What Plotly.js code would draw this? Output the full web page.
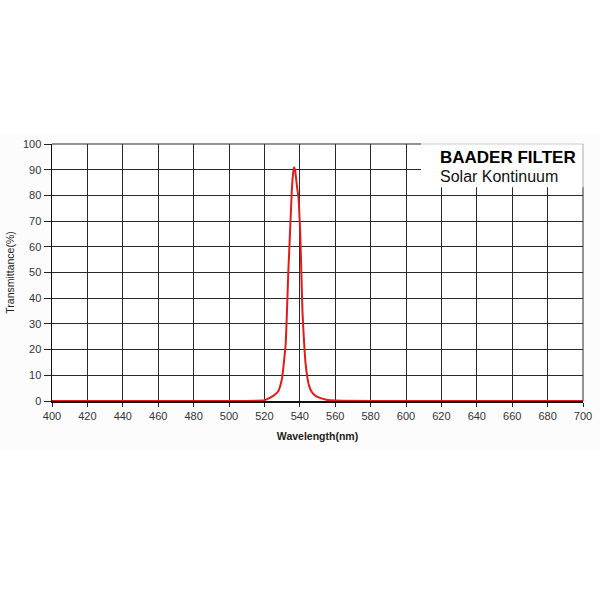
<!DOCTYPE html>
<html>
<head>
<meta charset="utf-8">
<script src="https://cdn.plot.ly/plotly-3.0.1.min.js"></script>
<style>html,body{margin:0;padding:0;background:#fff;}#chart{width:600px;height:600px;}</style>
</head>
<body>
<div id="chart"></div>
<script>
// Wavelength (nm) and transmittance (%)
const wavelength = [400, 450, 500, 515, 520, 523, 526, 528, 529, 530, 531, 532, 532.5, 533, 533.5, 534, 534.5, 535, 535.5, 536, 536.7, 537.3, 538, 538.7, 539.3, 539.8, 540.2, 540.8, 541.5, 542, 542.5, 543.2, 544.2, 545.2, 546.7, 548.5, 551.4, 555, 560, 600, 650, 700];
const transmittance = [0, 0, 0, 0.1, 0.3, 1.2, 2.5, 4, 6, 9, 15, 22, 30, 40, 50, 58, 66, 74, 82, 87, 91, 90, 86, 82, 79, 72, 66, 52, 35, 28, 22, 15, 9.5, 6, 3.6, 2.2, 1.2, 0.5, 0.2, 0, 0, 0];
const xTicks = [400, 420, 440, 460, 480, 500, 520, 540, 560, 580, 600, 620, 640, 660, 680, 700];
const yTicks = [0, 10, 20, 30, 40, 50, 60, 70, 80, 90, 100];
const titleLine1 = "BAADER FILTER";
const titleLine2 = "Solar Kontinuum";
const xTitle = "Wavelength(nm)";
const yTitle = "Transmittance(%)";

const font = "Liberation Sans, Arial, sans-serif";

const trace = {
  x: wavelength, y: transmittance, type: 'scatter', mode: 'lines',
  line: {color: '#e31a1a', width: 2, shape: 'spline', smoothing: 0.6},
  hoverinfo: 'skip'
};

const layout = {
  width: 600, height: 600,
  margin: {l: 52, r: 17, t: 144, b: 199},
  paper_bgcolor: '#ffffff', plot_bgcolor: '#ffffff',
  showlegend: false,
  xaxis: {
    range: [400, 700], tickvals: xTicks, ticktext: xTicks.map(String),
    showgrid: true, gridcolor: '#2a2a2a', gridwidth: 1,
    showline: true, linecolor: '#111', linewidth: 1.5, mirror: false,
    ticks: 'outside', ticklen: 4, tickcolor: '#222',
    zeroline: false, fixedrange: true,
    tickfont: {family: font, size: 11, color: '#333'},
    title: {text: xTitle, font: {family: font, size: 10.5, color: '#222', weight: 'bold'}, standoff: 12}
  },
  yaxis: {
    range: [0, 100], tickvals: yTicks, ticktext: yTicks.map(String),
    showgrid: true, gridcolor: '#2a2a2a', gridwidth: 1,
    showline: true, linecolor: '#111', linewidth: 1.5, mirror: false,
    ticks: 'outside', ticklen: 7, tickcolor: '#222',
    zeroline: false, fixedrange: true,
    tickfont: {family: font, size: 11, color: '#333'},
    title: {text: yTitle, font: {family: font, size: 10.5, color: '#222'}, standoff: 6}
  },
  shapes: [
    {type: 'rect', xref: 'paper', yref: 'paper', x0: -0.2, x1: 1.1, y0: -0.19, y1: 1.04,
     fillcolor: '#fcfcfc', line: {width: 0}, layer: 'below'},
    {type: 'rect', xref: 'paper', yref: 'paper', x0: 0, x1: 1, y0: 0, y1: 1,
     fillcolor: '#ffffff', line: {width: 0}, layer: 'below'},
    {type: 'rect', xref: 'paper', yref: 'paper', x0: 0.695, x1: 1.0, y0: 0.832, y1: 1.0,
     fillcolor: '#ffffff', line: {width: 0}, layer: 'above'},
    {type: 'line', xref: 'paper', yref: 'paper', x0: 0.695, x1: 1, y0: 1, y1: 1,
     line: {color: '#cccccc', width: 1}, layer: 'above'},
    {type: 'line', xref: 'paper', yref: 'paper', x0: 1, x1: 1, y0: 0.832, y1: 1,
     line: {color: '#aaaaaa', width: 1}, layer: 'above'},
    {type: 'line', xref: 'paper', yref: 'paper', x0: 0, x1: 0.695, y0: 1, y1: 1,
     line: {color: '#2a2a2a', width: 1}, layer: 'above'},
    {type: 'line', xref: 'paper', yref: 'paper', x0: 1, x1: 1, y0: 0, y1: 0.832,
     line: {color: '#2a2a2a', width: 1}, layer: 'above'}
  ],
  annotations: [
    {text: titleLine1, xref: 'paper', yref: 'paper', x: 0.727, y: 0.948, xanchor: 'left', yanchor: 'middle',
     showarrow: false, font: {family: font, size: 17, color: '#000', weight: 'bold'}},
    {text: titleLine2, xref: 'paper', yref: 'paper', x: 0.727, y: 0.874, xanchor: 'left', yanchor: 'middle',
     showarrow: false, font: {family: font, size: 16, color: '#111'}}
  ]
};

Plotly.newPlot('chart', [trace], layout, {displayModeBar: false, staticPlot: true});
</script>
</body>
</html>
